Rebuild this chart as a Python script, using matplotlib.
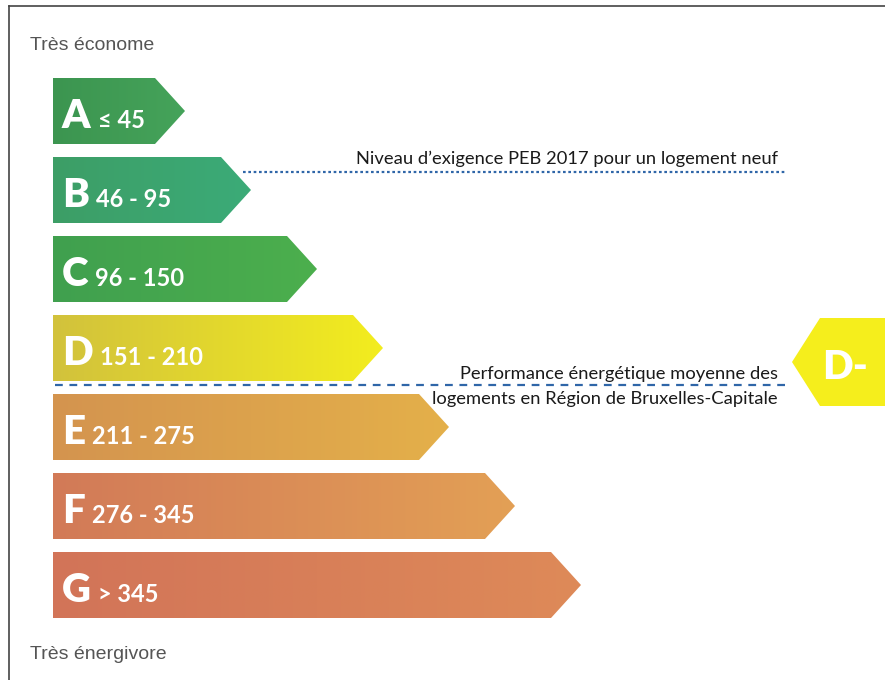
import numpy as np
import matplotlib.pyplot as plt
from matplotlib.patches import Polygon
from matplotlib.colors import LinearSegmentedColormap

# Energy classes (PEB, kWh/m².an) and their ranges
classes = ["A", "B", "C", "D", "E", "F", "G"]
ranges = ["≤ 45", "46 - 95", "96 - 150", "151 - 210", "211 - 275", "276 - 345", "> 345"]
# left / right colour of each arrow (slight gradient as on the scan)
left_colors = ["#3c9550", "#3d9e66", "#40a04f", "#d2c23c", "#d4944f", "#d27a58", "#d27458"]
right_colors = ["#45a35a", "#3bab78", "#4caf4d", "#f3ed1e", "#e4b04a", "#e3a055", "#de8a58"]

top_label = "Très économe"
bottom_label = "Très énergivore"
peb_label = "Niveau d\u2019exigence PEB 2017 pour un logement neuf"
avg_label = ["Performance énergétique moyenne des", "logements en Région de Bruxelles-Capitale"]
avg_class = "D-"

txt_font = ["Lato", "DejaVu Sans"]

fig = plt.figure(figsize=(8.85, 6.8), dpi=100)
ax = fig.add_axes([0, 0, 1, 1])

# layout in pixels
x0 = 53
y_top = 78
step = 79
bar_h = 66
len0 = 102
len_step = 66
tip = 30

for i, (cls, rng) in enumerate(zip(classes, ranges)):
    top = y_top + i * step
    bot = top + bar_h
    body_end = x0 + len0 + i * len_step
    pts = [(x0, top), (body_end, top), (body_end + tip, (top + bot) / 2),
           (body_end, bot), (x0, bot)]
    poly = Polygon(pts, closed=True, facecolor="none", edgecolor="none")
    ax.add_patch(poly)
    cmap = LinearSegmentedColormap.from_list("c%d" % i, [left_colors[i], right_colors[i]])
    grad = np.linspace(0, 1, 256).reshape(1, -1)
    im = ax.imshow(grad, extent=[x0, body_end + tip, bot, top], cmap=cmap,
                   aspect="auto", interpolation="bilinear", zorder=2)
    im.set_clip_path(poly)

    base = top + 50
    letter = ax.text(x0 + 9, base, cls, color="white", fontsize=29, fontweight="heavy",
                     family=txt_font, va="baseline", ha="left", zorder=3)
    ax.annotate(rng, xy=(1, base), xycoords=(letter, "data"), xytext=(5, 0),
                textcoords="offset points", color="white", fontsize=17, fontweight="bold",
                family=txt_font, va="baseline", ha="left", zorder=3)

# PEB 2017 requirement line
ax.plot([243, 785], [172, 172], color="#2f66a8", linestyle=(0, (1.2, 1.2)), lw=1.6, zorder=1)
ax.text(778, 164, peb_label, fontsize=13.2, family=txt_font, color="#1a1a1a",
        ha="right", va="baseline")

# Brussels average line
ax.plot([55, 785], [385, 385], color="#2f66a8", linestyle=(0, (3.5, 3)), lw=1.6, zorder=4)
ax.text(778, 379, avg_label[0], fontsize=13.2, family=txt_font, color="#1a1a1a",
        ha="right", va="baseline")
ax.text(778, 404, avg_label[1], fontsize=13.2, family=txt_font, color="#1a1a1a",
        ha="right", va="baseline")

# D- marker on the right
ax.add_patch(Polygon([(792, 362), (820, 318), (885, 318), (885, 406), (820, 406)],
                     closed=True, facecolor="#f5ee1c", edgecolor="none", zorder=2))
ax.text(822, 379, avg_class, color="white", fontsize=29, fontweight="heavy",
        family=txt_font, va="baseline", ha="left", zorder=3)

ax.text(30, 50, top_label, fontsize=14, family=["Liberation Sans", "DejaVu Sans"],
        color="#555555", va="baseline")
ax.text(30, 659, bottom_label, fontsize=14, family=["Liberation Sans", "DejaVu Sans"],
        color="#555555", va="baseline")

# scanned frame (top and left border)
ax.plot([9, 885], [6, 6], color="#444444", lw=1.2)
ax.plot([9, 9], [6, 680], color="#444444", lw=1.2)

ax.set_xlim(0, 885)
ax.set_ylim(680, 0)
ax.axis("off")

fig.savefig("out.png", dpi=100)
